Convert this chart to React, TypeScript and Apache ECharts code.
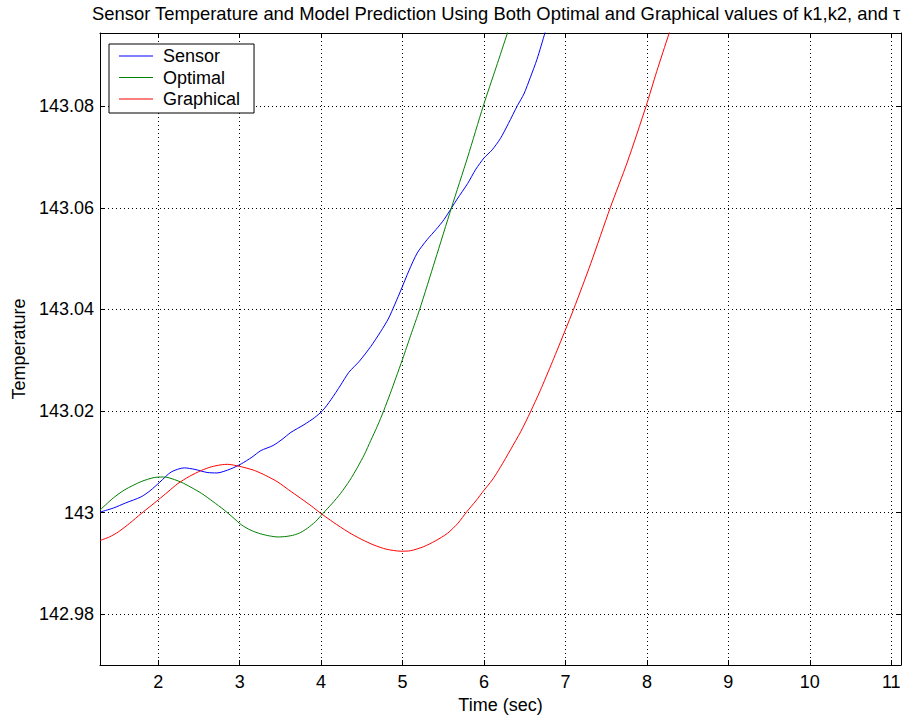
import React, { useEffect, useRef } from "react";
import * as echarts from "echarts";

// Axis extents (seconds / degrees)
const X_MIN = 1.285;
const X_MAX = 11.12;
const Y_MIN = 142.97;
const Y_MAX = 143.0944;

const TITLE =
  "Sensor Temperature and Model Prediction Using Both Optimal and Graphical values of k1,k2, and \u03c4";

// Sensor reading
const sensorTime = [
  1.285, 1.45, 1.6, 1.79, 1.9, 2.02, 2.16, 2.32, 2.45, 2.6, 2.72, 2.89, 3.02, 3.15, 3.26, 3.41,
  3.52, 3.63, 3.79, 3.92, 4.02, 4.12, 4.24, 4.34, 4.47, 4.61, 4.73, 4.83, 4.98, 5.08, 5.18, 5.3,
  5.41, 5.51, 5.67, 5.8, 5.9, 6.0, 6.1, 6.2, 6.3, 6.41, 6.49, 6.57, 6.65, 6.75, 6.85,
];
const sensorTemp = [
  143.0001, 143.0009, 143.0019, 143.0031, 143.0043, 143.006, 143.008, 143.0088, 143.0085,
  143.0079, 143.0078, 143.0086, 143.0096, 143.0109, 143.0122, 143.0132, 143.0144, 143.0158,
  143.0173, 143.0187, 143.0201, 143.0222, 143.0251, 143.0276, 143.0298, 143.0327, 143.0356,
  143.0383, 143.0438, 143.0477, 143.0511, 143.0537, 143.0557, 143.0577, 143.0617, 143.0648,
  143.0676, 143.0698, 143.0714, 143.0736, 143.0766, 143.0801, 143.0824, 143.0857, 143.0892,
  143.0945, 143.0997,
];

// Model with optimal k1, k2, tau
const optimalTime = [
  1.285, 1.45, 1.59, 1.79, 1.95, 2.05, 2.12, 2.28, 2.4, 2.53, 2.67, 2.81, 2.92, 3.02, 3.14, 3.26,
  3.37, 3.47, 3.57, 3.67, 3.75, 3.83, 3.93, 4.02, 4.13, 4.24, 4.35, 4.45, 4.53, 4.61, 4.69, 4.77,
  4.85, 4.92, 5.0, 5.1, 5.21, 5.4, 5.6, 5.8, 5.99, 6.15, 6.29, 6.45,
];
const optimalTemp = [
  143.0005, 143.0029, 143.0045, 143.0061, 143.0069, 143.007, 143.0069, 143.006, 143.005,
  143.0038, 143.0022, 143.0005, 142.999, 142.9976, 142.9965, 142.9958, 142.9954, 142.9952,
  142.9953, 142.9956, 142.9961, 142.9969, 142.9982, 142.9998, 143.0017, 143.0038, 143.0063,
  143.009, 143.0114, 143.0142, 143.017, 143.0201, 143.0235, 143.0266, 143.0302, 143.0349,
  143.04, 143.0497, 143.06, 143.07, 143.08, 143.0877, 143.0945, 143.1022,
];

// Model with graphically estimated k1, k2, tau
const graphicalTime = [
  1.285, 1.4, 1.51, 1.65, 1.79, 1.9, 2.0, 2.12, 2.24, 2.38, 2.53, 2.65, 2.77, 2.85, 2.94, 3.05,
  3.18, 3.32, 3.47, 3.6, 3.75, 3.88, 4.0, 4.15, 4.33, 4.5, 4.65, 4.8, 4.98, 5.1, 5.26, 5.4, 5.55,
  5.68, 5.79, 5.9, 6.0, 6.1, 6.2, 6.33, 6.45, 6.57, 6.69, 6.84, 7.0, 7.1, 7.31, 7.55, 7.76, 7.99,
  8.12, 8.27, 8.4,
];
const graphicalTemp = [
  142.9945, 142.9952, 142.9962, 142.9979, 142.9998, 143.0012, 143.0025, 143.0041, 143.0057,
  143.0071, 143.0083, 143.009, 143.0094, 143.0095, 143.0093, 143.0089, 143.0083, 143.0073,
  143.006, 143.0045, 143.0028, 143.0013, 142.9998, 142.9981, 142.9962, 142.9947, 142.9936,
  142.9928, 142.9924, 142.9925, 142.9933, 142.9944, 142.9959, 142.9979, 143.0002, 143.0023,
  143.0044, 143.0064, 143.0089, 143.0125, 143.0159, 143.0198, 143.024, 143.0297, 143.036,
  143.04, 143.049, 143.06, 143.069, 143.08, 143.0868, 143.0942, 143.1005,
];

const FONT = "'Liberation Sans', Arial, Helvetica, sans-serif";

const zip = (t: number[], v: number[]) => t.map((x, i) => [x, v[i]]);

export default function App() {
  const ref = useRef<HTMLDivElement>(null);

  useEffect(() => {
    const chart = echarts.init(ref.current!, null, { renderer: "svg" });

    const axisLine = { show: true, onZero: false, lineStyle: { color: "#000", width: 1 } };
    const tick = { show: true, inside: true, length: 5, lineStyle: { color: "#000", width: 1 } };
    const grid = { show: true, lineStyle: { color: "#000", width: 1, type: [1, 3] } };
    const label = {
      color: "#000",
      fontSize: 18,
      fontFamily: FONT,
      showMinLabel: false,
      showMaxLabel: false,
    };
    const fmtY = (v: number) => String(parseFloat(v.toFixed(2)));

    const lineSeries = (name: string, t: number[], v: number[], color: string) => ({
      name,
      type: "line",
      data: zip(t, v),
      symbol: "none",
      smooth: 0.25,
      color,
      lineStyle: { color, width: 1 },
      xAxisIndex: 0,
      yAxisIndex: 0,
    });

    chart.setOption({
      animation: false,
      backgroundColor: "#fff",
      title: {
        text: TITLE,
        left: 92,
        top: 4,
        padding: 0,
        textStyle: { fontSize: 18.4, fontWeight: "normal", color: "#000", fontFamily: FONT },
      },
      legend: {
        orient: "vertical",
        left: 109,
        top: 44,
        padding: [3, 14, 5, 10],
        itemGap: 3.5,
        itemWidth: 34,
        itemHeight: 1,
        icon: "rect",
        backgroundColor: "#fff",
        borderColor: "#000",
        borderWidth: 1,
        textStyle: { fontSize: 18, fontFamily: FONT, color: "#000", padding: [0, 0, 0, 5] },
        data: ["Sensor", "Optimal", "Graphical"],
      },
      grid: { left: 100, right: 10, top: 33, bottom: 53 },
      xAxis: [
        {
          type: "value",
          position: "bottom",
          min: X_MIN,
          max: X_MAX,
          splitNumber: 10,
          name: "Time (sec)",
          nameLocation: "middle",
          nameGap: 31,
          nameTextStyle: { fontSize: 18, color: "#000", fontFamily: FONT },
          axisLine,
          axisTick: tick,
          axisLabel: { ...label, margin: 8 },
          splitLine: grid,
        },
        {
          type: "value",
          position: "top",
          min: X_MIN,
          max: X_MAX,
          splitNumber: 10,
          axisLine,
          axisTick: tick,
          axisLabel: { show: false },
          splitLine: { show: false },
        },
      ],
      yAxis: [
        {
          type: "value",
          position: "left",
          min: Y_MIN,
          max: Y_MAX,
          splitNumber: 6,
          name: "Temperature",
          nameLocation: "middle",
          nameRotate: 90,
          nameGap: 72,
          nameTextStyle: { fontSize: 18, color: "#000", fontFamily: FONT },
          axisLine,
          axisTick: tick,
          axisLabel: { ...label, margin: 6, formatter: fmtY },
          splitLine: grid,
        },
        {
          type: "value",
          position: "right",
          min: Y_MIN,
          max: Y_MAX,
          splitNumber: 6,
          axisLine,
          axisTick: tick,
          axisLabel: { show: false },
          splitLine: { show: false },
        },
      ],
      series: [
        lineSeries("Sensor", sensorTime, sensorTemp, "#0000ff"),
        lineSeries("Optimal", optimalTime, optimalTemp, "#008000"),
        lineSeries("Graphical", graphicalTime, graphicalTemp, "#ff0000"),
      ],
    });

    return () => chart.dispose();
  }, []);

  return (
    <div
      ref={ref}
      style={{ position: "absolute", left: 0, top: 0, width: 911, height: 719, background: "#fff" }}
    />
  );
}
